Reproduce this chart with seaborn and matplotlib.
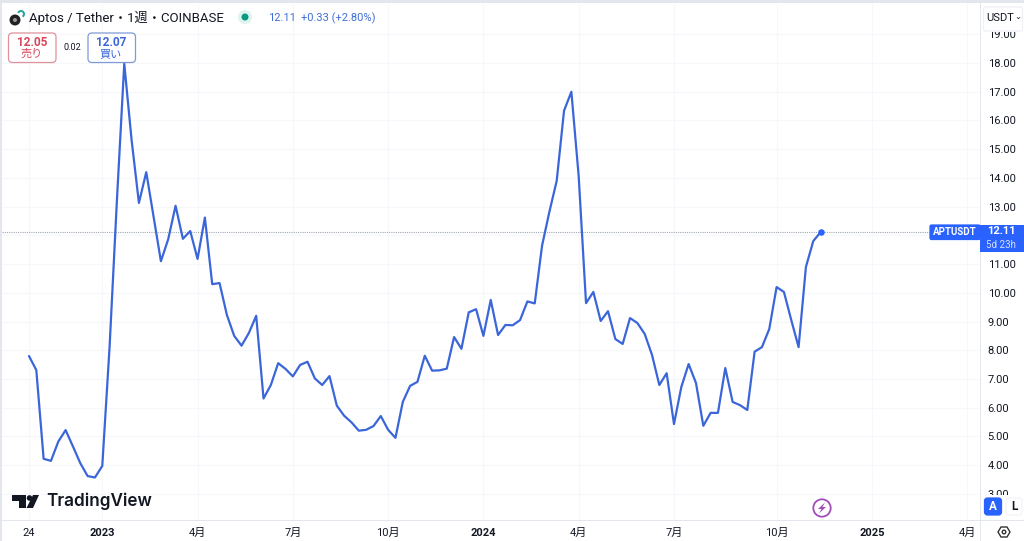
import numpy as np
import pandas as pd
import matplotlib
matplotlib.use("Agg")
import matplotlib.pyplot as plt
import seaborn as sns
from matplotlib.patches import Circle, FancyBboxPatch, Polygon, Rectangle, Wedge
from matplotlib.transforms import Affine2D

# weekly close
price = [
    7.80, 7.31, 4.22, 4.15, 4.82, 5.22, 4.65, 4.07, 3.62, 3.57, 3.97, 8.13, 13.23, 17.98,
    15.32, 13.13, 14.20, 12.65, 11.10, 11.87, 13.03, 11.88, 12.15, 11.18, 12.62, 10.30,
    10.34, 9.23, 8.50, 8.16, 8.60, 9.20, 6.32, 6.79, 7.55, 7.35, 7.09, 7.49, 7.60, 7.02,
    6.79, 7.10, 6.07, 5.72, 5.49, 5.20, 5.23, 5.36, 5.71, 5.23, 4.95, 6.20, 6.76, 6.90,
    7.81, 7.29, 7.30, 7.36, 8.46, 8.05, 9.32, 9.43, 8.50, 9.75, 8.53, 8.88, 8.87, 9.05,
    9.70, 9.63, 11.64, 12.82, 13.90, 16.34, 17.00, 14.05, 9.64, 10.03, 9.02, 9.36, 8.39,
    8.22, 9.12, 8.95, 8.57, 7.84, 6.79, 7.20, 5.43, 6.72, 7.52, 6.86, 5.37, 5.82, 5.82,
    7.38, 6.20, 6.09, 5.92, 7.95, 8.11, 8.74, 10.20, 10.03, 9.05, 8.11, 10.90, 11.80, 12.11,
]
first_week = "2022-10-24"
price_ticks = [3, 4, 5, 6, 7, 8, 9, 10, 11, 12, 13, 14, 15, 16, 17, 18, 19]
date_ticks = ["2022-10-24", "2023-01-02", "2023-04-03", "2023-07-03", "2023-10-02", "2024-01-01",
              "2024-04-01", "2024-07-01", "2024-10-07", "2025-01-06", "2025-04-07"]
date_labels = ["24", "2023", "4月", "7月", "10月", "2024", "4月", "7月", "10月", "2025", "4月"]
last_price = 12.11

LINE = "#3b66d9"
BLUE = "#2962ff"
RED = "#d8465c"
INK = "#131722"
GRID = "#f6f7fa"
EDGE = "#e4e6ee"

df = pd.DataFrame({"date": pd.date_range(first_week, periods=len(price), freq="W-MON"), "price": price})

sns.set_theme(style="white")
plt.rcParams["font.family"] = ["Roboto", "Noto Sans CJK JP", "DejaVu Sans"]

fig = plt.figure(figsize=(10.24, 5.41), dpi=100, facecolor="white")
ax = fig.add_axes([2 / 1024, (541 - 520) / 541, 978 / 1024, 517 / 541])

sns.lineplot(data=df, x="date", y="price", ax=ax, color=LINE, linewidth=1.6, legend=False)
sns.scatterplot(data=df.tail(1), x="date", y="price", ax=ax, color=BLUE, s=22, linewidth=0, legend=False, zorder=5)
ax.axhline(last_price, color="#a3a9b8", lw=0.8, ls=(0, (1, 1)), zorder=1)

week = pd.Timedelta(days=7)
start = pd.Timestamp(first_week)
ax.set_xlim(start - 3.68 * week, start + 129.75 * week)
ax.set_ylim(2.09, 20.09)

ax.set_xticks(pd.to_datetime(date_ticks))
ax.set_xticklabels(date_labels, fontsize=8, color=INK)
for t, s in zip(ax.get_xticklabels(), date_labels):
    if s.startswith("20"):
        t.set_fontweight("bold")
ax.set_yticks(price_ticks)
# 12.00 sits behind the last price tag
ax.set_yticklabels(["" if p == 12 else f"{p:.2f}" for p in price_ticks], fontsize=8, color=INK)
ax.yaxis.tick_right()
ax.tick_params(axis="x", length=0, pad=6)
ax.tick_params(axis="y", length=0, pad=5.5)
ax.grid(True, color=GRID, lw=0.8)
ax.set_axisbelow(True)
ax.set_xlabel("")
ax.set_ylabel("")
sns.despine(ax=ax, left=True, bottom=True, right=True, top=True)

# everything below sits in screen pixels, y going down
px = Affine2D().scale(1, -1).translate(0, 541)


def rect(x, y, w, h, color, z=5):
    fig.add_artist(Rectangle((x, y), w, h, transform=px, facecolor=color, edgecolor="none", zorder=z))


def box(x, y, w, h, face, edge, z=6, r=4):
    fig.add_artist(FancyBboxPatch((x + r, y + r), w - 2 * r, h - 2 * r, boxstyle=f"round,pad={r},rounding_size={r}",
                                  transform=px, facecolor=face, edgecolor=edge, lw=0.9, zorder=z))


def label(x, y, s, size=8, color=INK, ha="center", weight="normal"):
    fig.text(x, y, s, transform=px, fontsize=size, color=color, ha=ha, va="center", fontweight=weight, zorder=8)


# frame of the widget
rect(0, 0, 1024, 2.5, EDGE)
rect(0, 0, 1.5, 541, EDGE)
rect(980, 0, 1, 541, EDGE)
rect(0, 520, 1024, 1, EDGE)

# header
fig.add_artist(Circle((15, 20), 5.5, transform=px, facecolor="#222222", edgecolor="none", zorder=7))
fig.add_artist(Circle((15, 20), 2, transform=px, facecolor="#999999", edgecolor="none", zorder=7))
fig.add_artist(Wedge((21, 14), 4, 200, 60, width=2, transform=px, facecolor="#26a69a", edgecolor="none", zorder=7))
label(29, 18, "Aptos / Tether・1週・COINBASE", size=9.5, ha="left")
fig.add_artist(Circle((245, 17), 7, transform=px, facecolor="#dff3ef", edgecolor="none", zorder=7))
fig.add_artist(Circle((245, 17), 3.5, transform=px, facecolor="#089981", edgecolor="none", zorder=7))
label(268, 18, "12.11", size=8, color="#3f6fd8", ha="left")
label(301, 18, "+0.33 (+2.80%)", size=8, color="#3f6fd8", ha="left")

# sell / buy boxes
box(8.5, 33, 47.5, 29.5, "white", "#e0919c")
label(32, 42, "12.05", size=8.5, color=RED, weight="bold")
label(32, 54, "売り", size=8, color=RED)
label(72, 47, "0.02", size=6.5)
box(88, 33, 47.5, 29.5, "white", "#7f9bd6")
label(111, 42, "12.07", size=8.5, color="#3b66d9", weight="bold")
label(111, 54, "買い", size=8, color="#3b66d9")

# currency button, hides the top of 19.00
rect(981, 3, 43, 29, "white")
box(983.5, 7, 39, 24, "white", "#eef0f4", r=2)
label(986.5, 18, "USDT", size=8, ha="left")
label(1018, 17, "⌄", size=6)

# last price tags
box(930, 225, 50, 14.5, BLUE, BLUE, r=1.5)
label(955, 232, "APTUSDT", size=7, color="white", weight="bold")
rect(980, 225, 44, 27, BLUE, z=6)
label(1001, 231.5, "12.11", size=8, color="white", weight="bold")
label(1001, 245.5, "5d 23h", size=7, color="#d5e0ff")

# auto / log buttons, hide the bottom of 3.00
rect(981, 495, 43, 25, "white")
box(984.5, 498, 17, 17, BLUE, BLUE, r=3)
label(993, 506.5, "A", size=8.5, color="white", weight="bold")
box(1006, 498, 16, 17, "white", "#f2f3f6", r=3)
label(1014, 506.5, "L", size=8.5, weight="bold")

# settings hexagon
fig.add_artist(Polygon([(998, 532), (1001, 527), (1007, 527), (1010, 532), (1007, 537), (1001, 537)], transform=px,
                       facecolor="white", edgecolor="#333333", lw=1, zorder=7))
fig.add_artist(Circle((1004, 532), 1.8, transform=px, facecolor="white", edgecolor="#333333", lw=1, zorder=8))

# bolt icon
fig.add_artist(Circle((822, 508), 8.7, transform=px, facecolor="white", edgecolor="#a24db8", lw=1.3, zorder=7))
fig.add_artist(Polygon([(825, 502.5), (818, 509), (821.5, 509), (819, 513.5), (826, 507), (822.5, 507)], transform=px,
                       facecolor="#a24db8", edgecolor="none", zorder=8))

# TradingView mark
fig.add_artist(Polygon([(12, 495), (26, 495), (26, 508), (19, 508), (19, 501), (12, 501)], transform=px,
                       facecolor=INK, edgecolor="none", zorder=7))
fig.add_artist(Circle((29.5, 498), 2.8, transform=px, facecolor=INK, edgecolor="none", zorder=7))
fig.add_artist(Polygon([(33, 495), (39, 495), (33, 508), (26.5, 508)], transform=px,
                       facecolor=INK, edgecolor="none", zorder=7))
fig.text(46, 501.5, "TradingView", transform=px, fontsize=12.3, color=INK, ha="left", va="center", fontweight="semibold",
         family=["Inter", "Roboto"], zorder=8)

fig.savefig("out.png", dpi=100, facecolor="white")
